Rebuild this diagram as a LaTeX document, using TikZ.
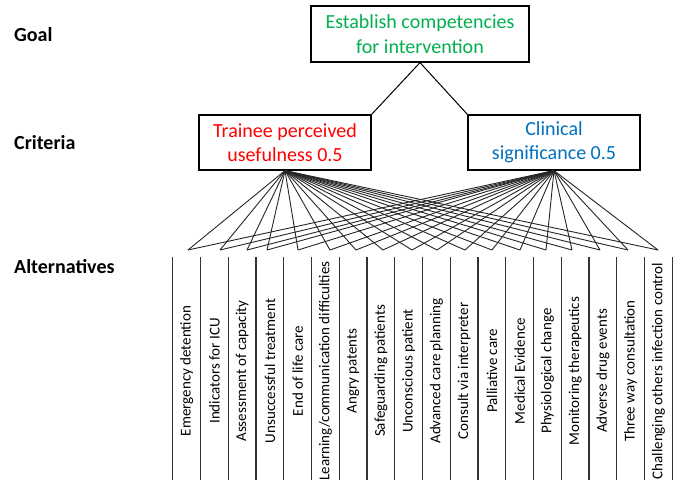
\documentclass[tikz,border=0pt]{standalone}
\usepackage{fontspec}
\setmainfont{Carlito}
\definecolor{goalgreen}{RGB}{0,176,80}
\definecolor{critred}{RGB}{255,0,0}
\definecolor{critblue}{RGB}{0,112,192}
\begin{document}
\begin{tikzpicture}[x=1pt,y=-1pt,
  levelbox/.style={draw=black,line width=1.2pt,rectangle,align=center,inner sep=0pt,
    font=\fontsize{20}{24.4}\selectfont},
  levellabel/.style={anchor=west,inner sep=0pt,font=\bfseries\fontsize{20}{24}\selectfont},
  altlabel/.style={rotate=90,inner sep=0pt,font=\fontsize{15}{18}\selectfont},
  fanline/.style={line width=0.9pt,black!85},
  colline/.style={line width=1.1pt,black!80}]
\useasboundingbox (0,0) rectangle (681,480);
\fill[white] (0,0) rectangle (681,480);

% level labels
\node[levellabel] (lgoal) at (14,35) {Goal};
\node[levellabel] (lcrit) at (14,143) {Criteria};
\node[levellabel] (lalt) at (14,267) {Alternatives};

% goal and criteria
\node[levelbox,text=goalgreen,minimum width=218pt,minimum height=56pt] (goal) at (420,34)
  {Establish competencies\\for intervention};
\node[levelbox,text=critred,minimum width=172pt,minimum height=55pt] (tpu) at (285,142.5)
  {Trainee perceived\\usefulness 0.5};
\node[levelbox,text=critblue,minimum width=172pt,minimum height=55pt] (cs) at (554,142.5)
  {Clinical\\significance 0.5};

\draw[line width=1pt] (goal.south) -- (tpu.north east);
\draw[line width=1pt] (goal.south) -- (cs.north west);

% alternative end points
\foreach \i/\x in {1/188,2/220,3/247,4/267,5/298,6/330,7/356,8/383,9/412,10/437,11/465,12/492,13/520,14/546,15/572,16/600,17/628,18/658}{
  \coordinate (a\i) at (\x,250);
}
\foreach \i in {1,...,18}{
  \draw[fanline] (tpu.south) -- (a\i);
  \draw[fanline] (cs.south) -- (a\i);
}

% column separators
\foreach \k in {0,...,18}{
  \draw[colline] ({172.7+27.75*\k},257) -- ({172.7+27.75*\k},480);
}

% alternative labels
\foreach \k/\t in {0/{Emergency detention},1/{Indicators for ICU},2/{Assessment of capacity},
  3/{Unsuccessful treatment},4/{End of life care},5/{Learning/communication difficulties},
  6/{Angry patents},7/{Safeguarding patients},8/{Unconscious patient},9/{Advanced care planning},
  10/{Consult via interpreter},11/{Palliative care},12/{Medical Evidence},13/{Physiological change},
  14/{Monitoring therapeutics},15/{Adverse drug events},16/{Three way consultation},
  17/{Challenging others infection control}}{
  \node[altlabel] (t\k) at ({186.6+27.75*\k},371) {\t};
}
\end{tikzpicture}
\end{document}
